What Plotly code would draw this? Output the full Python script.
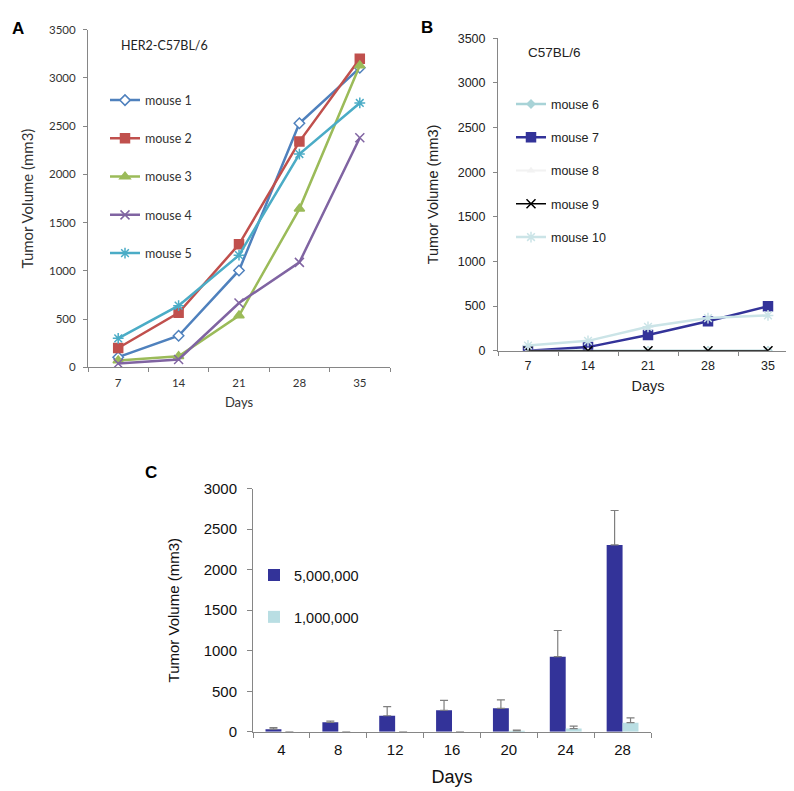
import plotly.graph_objects as go

W, H = 794, 791

# ---------------- data ----------------
days_A = ["7", "14", "21", "28", "35"]
mouse1 = [105, 327, 1004, 2530, 3105]
mouse2 = [200, 565, 1275, 2340, 3200]
mouse3 = [70, 115, 537, 1643, 3130]
mouse4 = [40, 81, 666, 1088, 2380]
mouse5 = [300, 639, 1163, 2211, 2741]

days_B = ["7", "14", "21", "28", "35"]
mouse6 = [0, 0, 0, 0, 0]
mouse7 = [0, 40, 175, 330, 497]
mouse8 = [0, 0, 0, 0, 0]
mouse9 = [0, 0, 0, 0, 0]
mouse10 = [58, 110, 267, 365, 395]

days_C = ["4", "8", "12", "16", "20", "24", "28"]
cells_5m = [32, 117, 198, 266, 290, 927, 2306]
cells_5m_err = [20, 16, 112, 121, 105, 323, 424]
cells_1m = [0, 0, 0, 0, 12, 40, 113]
cells_1m_err = [0, 0, 0, 0, 8, 29, 60]

# ---------------- helpers ----------------
def px_x(p):
    return p / W

def px_y(p):
    return 1 - p / H

FA = "Lato, Carlito, Calibri, sans-serif"
FB = "Liberation Sans, Arial, sans-serif"
AX = "#868686"

fig = go.Figure()

# ---------------- panel A ----------------
specA = [
    ("mouse 1", mouse1, "#4F81BD", "diamond", 8, "white"),
    ("mouse 2", mouse2, "#C0504D", "square", 9, "#C0504D"),
    ("mouse 3", mouse3, "#9BBB59", "triangle-up", 9, "#9BBB59"),
    ("mouse 4", mouse4, "#8064A2", "x-thin-open", 9, "#8064A2"),
    ("mouse 5", mouse5, "#4BACC6", "asterisk-open", 9, "#4BACC6"),
]
for name, vals, col, sym, sz, fill in specA:
    fig.add_trace(go.Scatter(
        x=days_A, y=vals, name=name, mode="lines+markers",
        line=dict(color=col, width=2.5),
        marker=dict(symbol=sym, size=sz, color=fill, line=dict(color=col, width=1.5)),
        xaxis="x", yaxis="y", legend="legend", legendgroup=name,
    ))

# ---------------- panel B ----------------
specB = [
    ("mouse 6", mouse6, "#A8D3D7", "diamond", 6, "#A8D3D7", 2.5),
    ("mouse 7", mouse7, "#333399", "square", 9, "#333399", 2.5),
    ("mouse 8", mouse8, "#F2F2F2", "triangle-up", 5, "#F2F2F2", 2.0),
    ("mouse 9", mouse9, "#000000", "x-thin-open", 9, "#000000", 1.5),
    ("mouse 10", mouse10, "#CBE4E7", "asterisk-open", 9, "#CBE4E7", 2.5),
]
for name, vals, col, sym, sz, fill, lw in specB:
    fig.add_trace(go.Scatter(
        x=days_B, y=vals, name=name, mode="lines+markers",
        line=dict(color=col, width=lw),
        marker=dict(symbol=sym, size=sz, color=fill, line=dict(color=col, width=1.5)),
        xaxis="x2", yaxis="y2", legend="legend2", legendgroup=name,
    ))

# ---------------- panel C ----------------
fig.add_trace(go.Bar(
    x=days_C, y=cells_5m, name="5,000,000", marker=dict(color="#333399", line=dict(width=0)),
    error_y=dict(type="data", array=cells_5m_err, arrayminus=[0] * len(cells_5m_err),
                 symmetric=False, color="#7F7F7F", thickness=1.2, width=4),
    xaxis="x3", yaxis="y3", legend="legend3", legendgroup="a",
))
fig.add_trace(go.Bar(
    x=days_C, y=cells_1m, name="1,000,000", marker=dict(color="#B9DEE3", line=dict(width=0)),
    error_y=dict(type="data", array=cells_1m_err, arrayminus=[0] * len(cells_1m_err),
                 symmetric=False, color="#7F7F7F", thickness=1.2, width=4),
    xaxis="x3", yaxis="y3", legend="legend3", legendgroup="b",
))

common_x = dict(type="category", showline=True, linewidth=1, ticks="outside",
                tickson="boundaries", showgrid=False, zeroline=False, fixedrange=True)
common_y = dict(showline=True, linewidth=1, ticks="outside", showgrid=False,
                zeroline=False, fixedrange=True)

fig.update_layout(
    width=W, height=H, autosize=False,
    margin=dict(l=0, r=0, t=0, b=0),
    paper_bgcolor="white", plot_bgcolor="white",
    barmode="group", bargap=0.44, bargroupgap=0,
    showlegend=True,
    xaxis=dict(**common_x, domain=[px_x(80), px_x(382)], anchor="y", range=[-0.5, 4.5],
               linecolor=AX, tickcolor=AX, ticklen=4, ticklabelstandoff=5,
               tickfont=dict(family=FA, size=11.5, color="#333333"),
               title=dict(text="Days", font=dict(family=FA, size=13, color="#333333"), standoff=9)),
    yaxis=dict(**common_y, domain=[px_y(358), px_y(13)], anchor="x", range=[0, 3500], dtick=500,
               linecolor=AX, tickcolor=AX, ticklen=4, ticklabelstandoff=5,
               tickfont=dict(family=FA, size=11.5, color="#333333"),
               title=dict(text="Tumor Volume (mm3)", font=dict(family=FA, size=15, color="#333333"),
                          standoff=11)),
    xaxis2=dict(**common_x, domain=[px_x(490), px_x(790)], anchor="y2", range=[-0.5, 4.5],
                linecolor=AX, tickcolor=AX, ticklen=4, ticklabelstandoff=3,
                tickfont=dict(family=FB, size=12.5, color="#222222"),
                title=dict(text="Days", font=dict(family=FB, size=14.5, color="#222222"), standoff=9)),
    yaxis2=dict(**common_y, domain=[px_y(341), px_y(21.7)], anchor="x2", range=[0, 3500], dtick=500,
                linecolor=AX, tickcolor=AX, ticklen=4, ticklabelstandoff=5,
                tickfont=dict(family=FB, size=12.5, color="#222222"),
                title=dict(text="Tumor Volume (mm3)", font=dict(family=FB, size=14.5, color="#222222"),
                           standoff=15)),
    xaxis3=dict(**common_x, domain=[px_x(245), px_x(643)], anchor="y3", range=[-0.5, 6.5],
                linecolor=AX, tickcolor=AX, ticklen=5, ticklabelstandoff=4,
                tickfont=dict(family=FB, size=15, color="#111111"),
                title=dict(text="Days", font=dict(family=FB, size=18, color="#111111"), standoff=13)),
    yaxis3=dict(**common_y, domain=[px_y(730.5), px_y(482)], anchor="x3", range=[0, 3000], dtick=500,
                linecolor=AX, tickcolor=AX, ticklen=5, ticklabelstandoff=7,
                tickfont=dict(family=FB, size=15, color="#111111"),
                title=dict(text="Tumor Volume (mm3)", font=dict(family=FB, size=15, color="#111111"),
                           standoff=20)),
    legend=dict(x=px_x(97), y=px_y(70), xanchor="left", yanchor="top", bgcolor="rgba(0,0,0,0)",
                font=dict(family=FA, size=12.5, color="#333333"), itemwidth=30,
                tracegroupgap=19, traceorder="grouped"),
    legend2=dict(x=px_x(503), y=px_y(74), xanchor="left", yanchor="top", bgcolor="rgba(0,0,0,0)",
                 font=dict(family=FB, size=12.5, color="#222222"), itemwidth=30,
                 tracegroupgap=14, traceorder="grouped"),
    legend3=dict(x=px_x(246), y=px_y(554), xanchor="left", yanchor="top", bgcolor="rgba(0,0,0,0)",
                 font=dict(family=FB, size=14.5, color="#111111"), itemwidth=30,
                 tracegroupgap=20, traceorder="grouped"),
    annotations=[
        dict(text="<b>A</b>", x=px_x(2), y=px_y(12), xref="paper", yref="paper", xanchor="left",
             yanchor="middle", showarrow=False, font=dict(family=FB, size=17, color="black")),
        dict(text="<b>B</b>", x=px_x(411), y=px_y(11), xref="paper", yref="paper", xanchor="left",
             yanchor="middle", showarrow=False, font=dict(family=FB, size=17, color="black")),
        dict(text="<b>C</b>", x=px_x(135), y=px_y(466), xref="paper", yref="paper", xanchor="left",
             yanchor="middle", showarrow=False, font=dict(family=FB, size=17, color="black")),
        dict(text="HER2-C57BL/6", x=px_x(111), y=px_y(29), xref="paper", yref="paper", xanchor="left",
             yanchor="middle", showarrow=False, font=dict(family=FA, size=12.5, color="#222222")),
        dict(text="C57BL/6", x=px_x(518), y=px_y(36), xref="paper", yref="paper", xanchor="left",
             yanchor="middle", showarrow=False, font=dict(family=FB, size=13.5, color="#222222")),
    ],
)

fig.write_html("out.html")
